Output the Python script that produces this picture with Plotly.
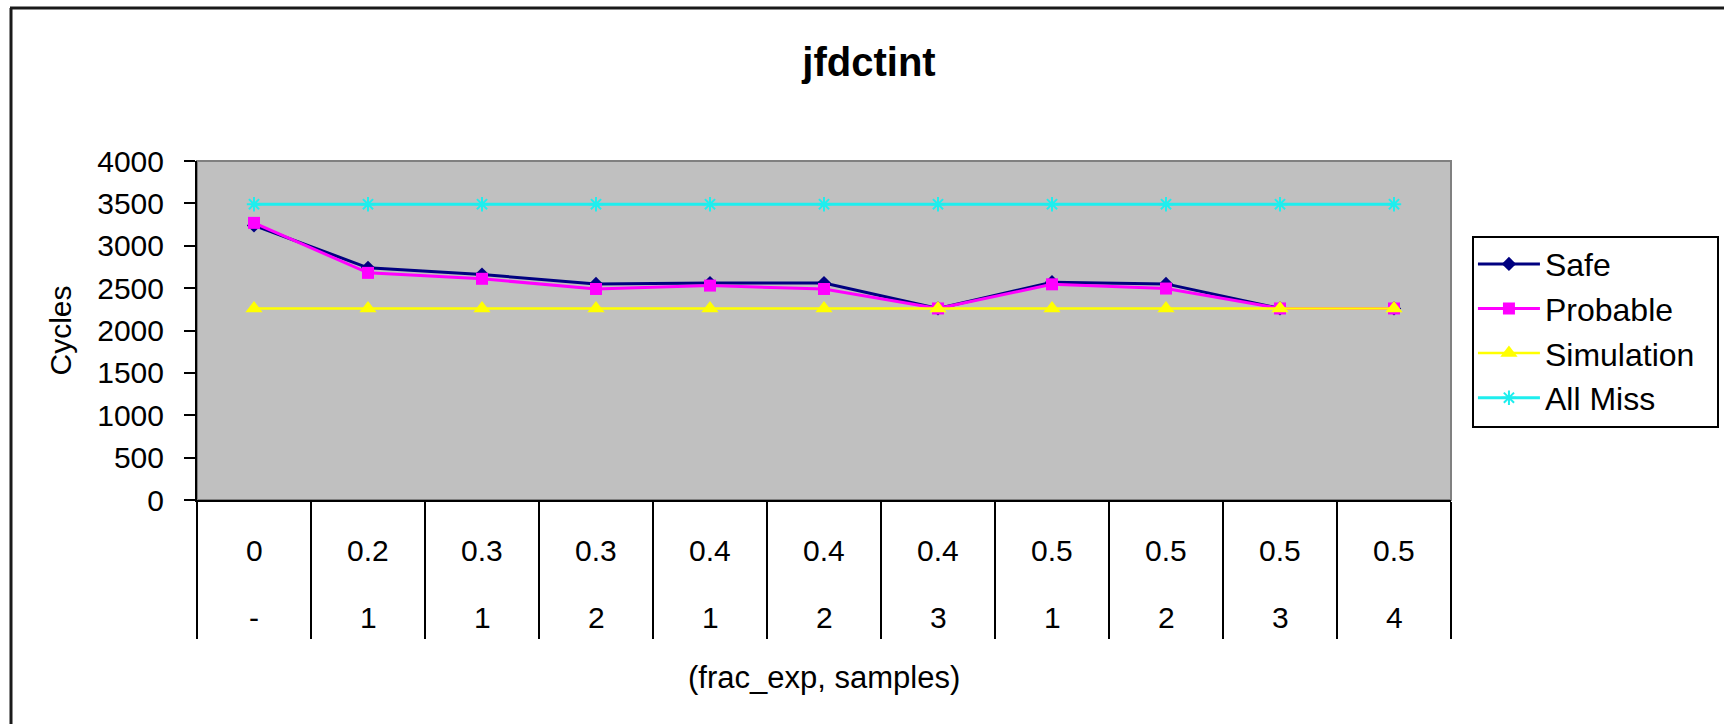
import plotly.graph_objects as go

# Categories: (frac_exp, samples) pairs
frac_exp = ["0", "0.2", "0.3", "0.3", "0.4", "0.4", "0.4", "0.5", "0.5", "0.5", "0.5"]
samples = ["-", "1", "1", "2", "1", "2", "3", "1", "2", "3", "4"]

# Cycle estimates per configuration
safe = [3240, 2740, 2660, 2550, 2560, 2560, 2260, 2570, 2550, 2260, 2260]
probable = [3270, 2680, 2610, 2490, 2530, 2490, 2260, 2545, 2495, 2260, 2260]
simulation = [2260, 2260, 2260, 2260, 2260, 2260, 2260, 2260, 2260, 2260, 2260]
all_miss = [3490, 3490, 3490, 3490, 3490, 3490, 3490, 3490, 3490, 3490, 3490]

y_ticks = [0, 500, 1000, 1500, 2000, 2500, 3000, 3500, 4000]

FONT = "Liberation Sans, Arial, sans-serif"
x_pos = list(range(len(frac_exp)))
boundaries = [i - 0.5 for i in range(len(frac_exp) + 1)]

series = [
    ("Safe", safe, "#000080", "diamond", 11, 3),
    ("Probable", probable, "#FF00FF", "square", 12, 3),
    ("Simulation", simulation, "#FFFF00", "triangle-up", 15, 2.5),
    ("All Miss", all_miss, "#1EEEEE", "asterisk-open", 12, 3),
]

fig = go.Figure()
for name, values, color, symbol, size, width in series:
    fig.add_trace(go.Scatter(
        x=x_pos, y=values, name=name, mode="lines+markers",
        legendgroup=name,
        line=dict(color=color, width=width),
        marker=dict(symbol=symbol, size=size, color=color,
                    line=dict(color=color, width=2 if symbol == "asterisk-open" else 0)),
    ))

annotations = []
for i, (f, s) in enumerate(zip(frac_exp, samples)):
    annotations.append(dict(x=i, xref="x", y=0, yref="paper", text=f, showarrow=False,
                            yanchor="middle", yshift=-50, font=dict(size=30, color="black", family=FONT)))
    annotations.append(dict(x=i, xref="x", y=0, yref="paper", text=s, showarrow=False,
                            yanchor="middle", yshift=-117, font=dict(size=30, color="black", family=FONT)))

# axis titles
annotations.append(dict(x=0.5, xref="paper", y=0, yref="paper", text="(frac_exp, samples)",
                        showarrow=False, yanchor="middle", yshift=-177,
                        font=dict(size=31, color="black", family=FONT)))
annotations.append(dict(x=0, xref="paper", xshift=-137, y=0.5, yref="paper", text="Cycles",
                        textangle=-90, showarrow=False, xanchor="center", yanchor="middle",
                        font=dict(size=30, color="black", family=FONT)))

shapes = [
    # plot-area frame
    dict(type="rect", xref="paper", yref="paper", x0=0, x1=1, y0=0, y1=1,
         line=dict(color="#808080", width=2), layer="below"),
    # legend box
    dict(type="rect", xref="paper", yref="paper", xsizemode="pixel", ysizemode="pixel",
         xanchor=1, yanchor=1, x0=22, x1=267, y0=-76, y1=-266,
         fillcolor="white", line=dict(color="black", width=2), layer="above"),
    # chart border (left and top edges)
    dict(type="line", xref="paper", yref="paper", xsizemode="pixel", ysizemode="pixel",
         xanchor=0, yanchor=1, x0=-186, x1=-186, y0=153, y1=-600,
         line=dict(color="#1a1a1a", width=3)),
    dict(type="line", xref="paper", yref="paper", xsizemode="pixel", ysizemode="pixel",
         xanchor=0, yanchor=1, x0=-187, x1=1540, y0=153, y1=153,
         line=dict(color="#1a1a1a", width=3)),
]

fig.update_layout(
    width=1724, height=724,
    margin=dict(l=197, r=273, t=161, b=224),
    paper_bgcolor="white",
    plot_bgcolor="#C0C0C0",
    font=dict(family=FONT, color="black"),
    title=dict(text="<b>jfdctint</b>", x=869 / 1724, xref="container", xanchor="center",
               y=1 - 62 / 724, yref="container", yanchor="middle",
               font=dict(size=40, color="black", family=FONT)),
    showlegend=True,
    legend=dict(x=1.0175, xanchor="left", y=0.777, yanchor="top",
                bgcolor="rgba(0,0,0,0)", borderwidth=0,
                font=dict(size=32, color="black", family=FONT),
                itemwidth=62, tracegroupgap=0, traceorder="grouped"),
    annotations=annotations,
    shapes=shapes,
)

fig.update_xaxes(
    range=[-0.5, len(frac_exp) - 0.5], tickmode="array", tickvals=boundaries,
    showticklabels=False, ticks="outside", ticklen=137, tickwidth=2, tickcolor="black",
    showline=True, linecolor="black", linewidth=2, showgrid=False, zeroline=False,
)
fig.update_yaxes(
    range=[0, 4000], tickmode="array", tickvals=y_ticks,
    ticks="outside", ticklen=11, tickwidth=2, tickcolor="black",
    tickfont=dict(size=30, color="black", family=FONT), ticklabelstandoff=14,
    showline=True, linecolor="black", linewidth=2, showgrid=False, zeroline=False,
)

fig.write_html("out.html")
